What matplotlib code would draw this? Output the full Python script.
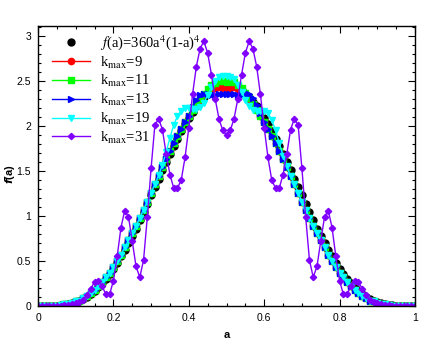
import numpy as np
import matplotlib
matplotlib.use("Agg")
import matplotlib.pyplot as plt
from matplotlib.ticker import MultipleLocator

plt.rcParams['mathtext.fontset'] = 'stix'

# eje x: a de 0 a 1 cada 0.01
a_vals = np.round(np.arange(0, 101) * 0.01, 2)

# datos
f_exact = [0.00, 0.00, 0.00, 0.00, 0.00, 0.00, 0.01, 0.01, 0.02, 0.03,
           0.04, 0.06, 0.08, 0.10, 0.13, 0.17, 0.21, 0.25, 0.30, 0.35,
           0.41, 0.48, 0.55, 0.62, 0.70, 0.78, 0.86, 0.95, 1.04, 1.13,
           1.23, 1.32, 1.41, 1.51, 1.60, 1.69, 1.78, 1.86, 1.94, 2.02,
           2.09, 2.16, 2.22, 2.27, 2.32, 2.36, 2.40, 2.43, 2.45, 2.46,
           2.46, 2.46, 2.45, 2.43, 2.40, 2.36, 2.32, 2.27, 2.22, 2.16,
           2.09, 2.02, 1.94, 1.86, 1.78, 1.69, 1.60, 1.51, 1.41, 1.32,
           1.23, 1.13, 1.04, 0.95, 0.86, 0.78, 0.70, 0.62, 0.55, 0.48,
           0.41, 0.35, 0.30, 0.25, 0.21, 0.17, 0.13, 0.10, 0.08, 0.06,
           0.04, 0.03, 0.02, 0.01, 0.01, 0.00, 0.00, 0.00, 0.00, 0.00, 0.00]

f_k9 = [0.00, 0.00, 0.00, 0.00, 0.00, 0.00, 0.01, 0.02, 0.02, 0.03,
        0.05, 0.06, 0.09, 0.11, 0.14, 0.18, 0.22, 0.27, 0.32, 0.37,
        0.43, 0.50, 0.57, 0.65, 0.73, 0.81, 0.89, 0.98, 1.07, 1.16,
        1.26, 1.35, 1.44, 1.54, 1.63, 1.72, 1.81, 1.89, 1.97, 2.04,
        2.11, 2.18, 2.24, 2.29, 2.34, 2.37, 2.40, 2.42, 2.43, 2.42,
        2.40, 2.42, 2.43, 2.41, 2.37, 2.33, 2.29, 2.24, 2.18, 2.11,
        2.04, 1.97, 1.89, 1.81, 1.72, 1.63, 1.54, 1.44, 1.35, 1.26,
        1.16, 1.07, 0.98, 0.89, 0.81, 0.73, 0.65, 0.57, 0.50, 0.43,
        0.37, 0.32, 0.27, 0.22, 0.18, 0.14, 0.11, 0.09, 0.06, 0.05,
        0.03, 0.02, 0.02, 0.01, 0.00, 0.00, 0.00, 0.00, 0.00, 0.00, 0.00]

f_k11 = [0.00, 0.00, 0.00, 0.00, 0.00, 0.00, 0.01, 0.02, 0.02, 0.03,
         0.05, 0.06, 0.09, 0.11, 0.14, 0.18, 0.22, 0.27, 0.32, 0.37,
         0.43, 0.50, 0.57, 0.65, 0.73, 0.81, 0.89, 0.98, 1.07, 1.16,
         1.26, 1.35, 1.44, 1.54, 1.63, 1.72, 1.81, 1.89, 1.97, 2.04,
         2.11, 2.18, 2.24, 2.30, 2.36, 2.41, 2.45, 2.48, 2.50, 2.50,
         2.49, 2.50, 2.49, 2.46, 2.42, 2.37, 2.31, 2.24, 2.18, 2.11,
         2.04, 1.97, 1.89, 1.81, 1.72, 1.63, 1.54, 1.44, 1.35, 1.26,
         1.16, 1.07, 0.98, 0.89, 0.81, 0.73, 0.65, 0.57, 0.50, 0.43,
         0.37, 0.32, 0.27, 0.22, 0.18, 0.14, 0.11, 0.09, 0.06, 0.05,
         0.03, 0.02, 0.02, 0.01, 0.00, 0.00, 0.00, 0.00, 0.00, 0.00, 0.00]

f_k13 = [0.00, 0.00, 0.00, 0.00, 0.00, 0.00, 0.01, 0.02, 0.02, 0.03,
         0.05, 0.06, 0.09, 0.11, 0.14, 0.18, 0.22, 0.27, 0.32, 0.37,
         0.43, 0.50, 0.57, 0.65, 0.73, 0.81, 0.89, 0.98, 1.07, 1.16,
         1.26, 1.35, 1.44, 1.54, 1.63, 1.72, 1.81, 1.89, 1.97, 2.04,
         2.11, 2.21, 2.29, 2.34, 2.36, 2.35, 2.34, 2.34, 2.35, 2.36,
         2.36, 2.36, 2.35, 2.34, 2.34, 2.35, 2.35, 2.31, 2.23, 2.14,
         2.04, 1.97, 1.89, 1.81, 1.72, 1.63, 1.54, 1.44, 1.35, 1.26,
         1.16, 1.07, 0.98, 0.89, 0.81, 0.73, 0.65, 0.57, 0.50, 0.43,
         0.37, 0.32, 0.27, 0.22, 0.18, 0.14, 0.11, 0.09, 0.06, 0.05,
         0.03, 0.02, 0.02, 0.01, 0.00, 0.00, 0.00, 0.00, 0.00, 0.00, 0.00]

f_k19 = [0.00, 0.00, 0.00, 0.00, 0.00, 0.00, 0.01, 0.02, 0.02, 0.03,
         0.05, 0.06, 0.09, 0.11, 0.14, 0.18, 0.22, 0.27, 0.32, 0.37,
         0.43, 0.50, 0.57, 0.65, 0.73, 0.81, 0.89, 0.98, 1.07, 1.16,
         1.26, 1.35, 1.45, 1.57, 1.71, 1.87, 2.01, 2.11, 2.17, 2.20,
         2.20, 2.19, 2.19, 2.21, 2.26, 2.34, 2.43, 2.50, 2.54, 2.55,
         2.55, 2.54, 2.52, 2.46, 2.38, 2.29, 2.22, 2.18, 2.17, 2.17,
         2.17, 2.14, 2.07, 1.95, 1.81, 1.67, 1.55, 1.44, 1.35, 1.26,
         1.16, 1.07, 0.98, 0.89, 0.81, 0.73, 0.65, 0.57, 0.50, 0.43,
         0.37, 0.32, 0.27, 0.22, 0.18, 0.14, 0.11, 0.09, 0.06, 0.05,
         0.03, 0.02, 0.02, 0.01, 0.00, 0.00, 0.00, 0.00, 0.00, 0.00, 0.00]

f_k31 = [0.00, 0.00, 0.00, 0.00, 0.00, 0.00, 0.005, 0.01, 0.015, 0.02,
         0.03, 0.045, 0.07, 0.12, 0.19, 0.27, 0.28, 0.22, 0.13, 0.13,
         0.28, 0.55, 0.87, 1.06, 0.99, 0.72, 0.44, 0.32, 0.51, 0.99,
         1.53, 2.01, 2.08, 1.96, 1.69, 1.46, 1.31, 1.31, 1.40, 1.65,
         1.98, 2.35, 2.66, 2.86, 2.94, 2.81, 2.57, 2.30, 2.08, 1.95,
         1.90, 1.95, 2.08, 2.30, 2.57, 2.81, 2.94, 2.86, 2.66, 2.35,
         1.98, 1.65, 1.40, 1.31, 1.31, 1.46, 1.69, 1.96, 2.08, 2.01,
         1.53, 0.99, 0.51, 0.32, 0.44, 0.72, 0.99, 1.06, 0.87, 0.55,
         0.28, 0.13, 0.13, 0.22, 0.28, 0.27, 0.19, 0.12, 0.07, 0.045,
         0.03, 0.02, 0.015, 0.01, 0.005, 0.00, 0.00, 0.00, 0.00, 0.00, 0.00]

fig = plt.figure(figsize=(4.36, 3.47), dpi=100)
ax = fig.add_axes([38 / 436, 1 - 306 / 347, 377 / 436, 280 / 347])

ax.plot(a_vals, f_exact, 'o', color='black', ms=5, mec='black',
        label=r'$f$(a)=360a$^4$(1-a)$^4$')
ax.plot(a_vals, f_k9, '-o', color='#ff0000', lw=1, ms=4.5, label=r'k$_{\rm max}$=9')
ax.plot(a_vals, f_k11, '-s', color='#00ff00', lw=1, ms=4, label=r'k$_{\rm max}$=11')
ax.plot(a_vals, f_k13, '->', color='#0000ff', lw=1, ms=4.5, label=r'k$_{\rm max}$=13')
ax.plot(a_vals, f_k19, '-v', color='#00ffff', lw=1, ms=4.5, label=r'k$_{\rm max}$=19')
ax.plot(a_vals, f_k31, '-D', color='#8000ff', lw=1, ms=3.2, label=r'k$_{\rm max}$=31')

ax.set_xlim(0, 1)
ax.set_ylim(0, 3.11)
ax.xaxis.set_minor_locator(MultipleLocator(0.05))
ax.yaxis.set_minor_locator(MultipleLocator(0.1))
ax.set_xticks([0, 0.2, 0.4, 0.6, 0.8, 1.0])
ax.set_xticklabels(['0', '0.2', '0.4', '0.6', '0.8', '1'])
ax.set_yticks([0, 0.5, 1, 1.5, 2, 2.5, 3])
ax.set_yticklabels(['0', '0.5', '1', '1.5', '2', '2.5', '3'])

ax.tick_params(which='both', direction='in', top=True, right=True, width=0.8)
ax.tick_params(which='major', length=5, labelsize=7.5, pad=5)
ax.tick_params(which='minor', length=2.5)
for lab in ax.get_xticklabels() + ax.get_yticklabels():
    lab.set_family('Liberation Sans')
for sp in ax.spines.values():
    sp.set_linewidth(1.0)

ax.set_xlabel('a', fontsize=8, fontweight='bold', family='Liberation Sans')
ax.xaxis.set_label_coords(0.5, -0.085)
ax.set_ylabel(r'$\mathbfit{f}$(a)', fontsize=8, fontweight='bold',
              family='Liberation Sans', math_fontfamily='dejavusans')
ax.yaxis.set_label_coords(-0.055, 0.47)

ax.legend(loc='upper left', bbox_to_anchor=(0.037, 0.975), frameon=False,
          prop={'family': 'Liberation Serif', 'size': 10.5},
          borderpad=0, borderaxespad=0, handlelength=2.6, handletextpad=0.7,
          labelspacing=0.18)

fig.savefig('out.png', dpi=100)
